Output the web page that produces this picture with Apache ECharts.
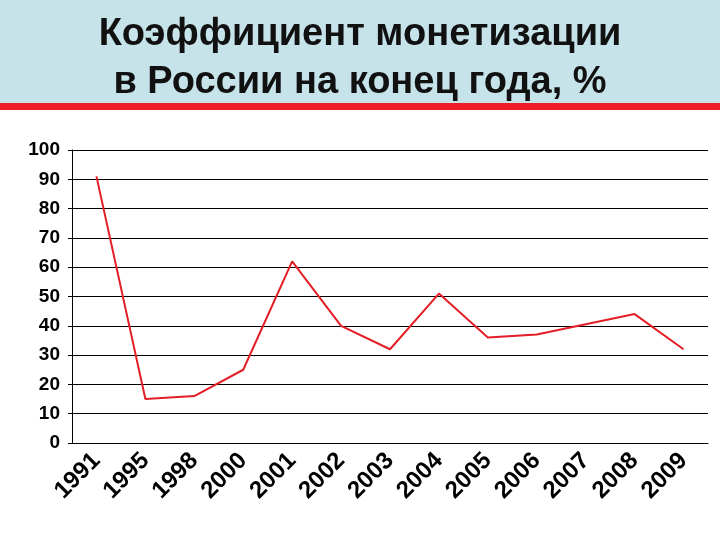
<!DOCTYPE html>
<html><head><meta charset="utf-8">
<script src="https://cdn.jsdelivr.net/npm/echarts@6/dist/echarts.min.js"></script>
<style>body{margin:0}#c{width:720px;height:540px}</style>
</head><body><div id="c"></div>
<script>
const years = ['1991','1995','1998','2000','2001','2002','2003','2004','2005','2006','2007','2008','2009'];
const ratio = [91, 15, 16, 25, 62, 40, 32, 51, 36, 37, 40.5, 44, 32];

const chart = echarts.init(document.getElementById('c'));
chart.setOption({
    backgroundColor: '#fff',
    graphic: [
        { type: 'rect', shape: { x: 0, y: 0, width: 720, height: 103 }, style: { fill: '#c6e3ea' }, z: -1 },
        { type: 'rect', shape: { x: 0, y: 103, width: 720, height: 7 }, style: { fill: '#ee1c24' }, z: -1 }
    ],
    title: {
        text: 'Коэффициент монетизации\nв России на конец года, %',
        left: 'center', top: 6,
        textStyle: { fontFamily: 'Liberation Sans', fontWeight: 'bold', fontSize: 38, lineHeight: 48, color: '#111' }
    },
    grid: { left: 72, right: 12, top: 150, bottom: 97 },
    xAxis: {
        type: 'category', data: years, boundaryGap: true,
        axisLine: { lineStyle: { color: '#000' } },
        axisTick: { show: false },
        axisLabel: { rotate: 45, interval: 0, fontFamily: 'Liberation Sans', fontWeight: 'bold', fontSize: 24, color: '#000', margin: 14 }
    },
    yAxis: {
        type: 'value', min: 0, max: 100, interval: 10,
        axisLine: { show: true, lineStyle: { color: '#000' } },
        axisTick: { show: true, length: 4, lineStyle: { color: '#000' } },
        splitLine: { lineStyle: { color: '#000' } },
        axisLabel: { fontFamily: 'Liberation Sans', fontWeight: 'bold', fontSize: 19, color: '#000', margin: 12 }
    },
    series: [{
        type: 'line', data: ratio, symbol: 'none',
        lineStyle: { color: '#e41e26', width: 2 }
    }]
});
</script></body></html>
